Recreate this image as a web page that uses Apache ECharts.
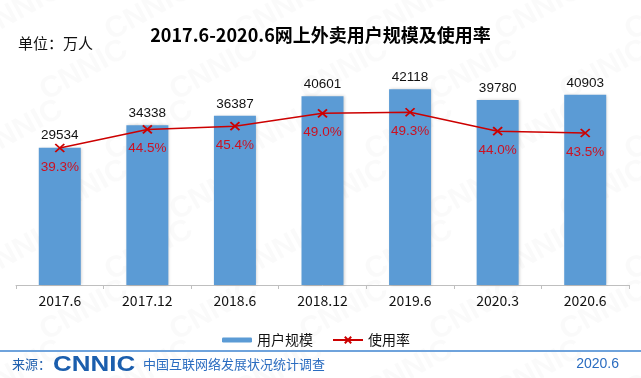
<!DOCTYPE html>
<html><head><meta charset="utf-8">
<script src="https://cdn.jsdelivr.net/npm/echarts@6/dist/echarts.min.js"></script>
<style>html,body{margin:0;padding:0;background:#fff}#c{width:641px;height:378px}</style>
</head><body><div id="c"></div>
<script>
const categories = ['2017.6','2017.12','2018.6','2018.12','2019.6','2020.3','2020.6'];
const users = [29534,34338,36387,40601,42118,39780,40903];
const rates = [39.3,44.5,45.4,49.0,49.3,44.0,43.5];
const seriesNames = ['用户规模','使用率'];
const titleText = '2017.6-2020.6网上外卖用户规模及使用率';
const unitText = '单位：万人';
const sourceLabel = '来源：';
const sourceOrg = 'CNNIC';
const sourceName = '中国互联网络发展状况统计调查';
const sourceDate = '2020.6';

const CJK = '"Noto Sans CJK SC", sans-serif';
const LAT = '"Liberation Sans", Arial, sans-serif';

const watermarks = [];
for (let r = 0; r < 7; r++) {
  for (let c = 0; c < 7; c++) {
    watermarks.push({
      type: 'text', x: -30 + c * 130 + (r % 2) * 65, y: 20 + r * 60, rotation: 0.5, z: -10,
      style: { text: 'CNNIC', fill: 'rgba(170,170,170,0.06)', font: 'bold 30px ' + LAT }
    });
  }
}

const chart = echarts.init(document.getElementById('c'));
chart.setOption({
  animation: false,
  backgroundColor: '#fff',
  title: {
    text: titleText, left: 'center', top: 21,
    textStyle: { fontSize: 18, fontWeight: 'bold', color: '#000', fontFamily: CJK }
  },
  legend: [
    { data: [seriesNames[0]], left: 217, top: 328, itemWidth: 30, itemHeight: 5, itemGap: 5,
      textStyle: { fontSize: 14, color: '#111', fontFamily: CJK } },
    { data: [seriesNames[1]], left: 327, top: 328, itemWidth: 30, itemHeight: 8, itemGap: 5,
      textStyle: { fontSize: 14, color: '#111', fontFamily: CJK } }
  ],
  grid: { left: 16, right: 12, top: 52.5, bottom: 93 },
  xAxis: {
    type: 'category', data: categories,
    axisLine: { lineStyle: { color: '#bfbfbf', width: 1 } },
    axisTick: { show: true, length: 4, lineStyle: { color: '#bfbfbf' } },
    axisLabel: { fontSize: 14, color: '#111', margin: 9, fontFamily: CJK }
  },
  yAxis: [
    { type: 'value', min: 0, max: 50000, show: false },
    { type: 'value', min: 1, max: 66, show: false }
  ],
  series: [
    {
      type: 'bar', name: seriesNames[0], data: users, barWidth: 42,
      itemStyle: { color: '#5b9bd5', shadowColor: 'rgba(0,0,0,0.2)', shadowBlur: 3, shadowOffsetX: 1 },
      label: { show: true, position: 'top', distance: 5, fontSize: 13.5, color: '#111', fontFamily: LAT }
    },
    {
      type: 'line', name: seriesNames[1], yAxisIndex: 1, data: rates,
      symbol: 'path://M0,0L10,10M10,0L0,10', symbolSize: [9, 8],
      lineStyle: { color: '#cc0000', width: 1.5 },
      itemStyle: { color: '#cc0000', borderColor: '#cc0000', borderWidth: 1.8 },
      label: { show: true, position: 'bottom', distance: 7, fontSize: 13.5, color: '#cc1122', fontFamily: LAT,
        formatter: p => p.value.toFixed(1) + '%' }
    }
  ],
  graphic: watermarks.concat([
    { type: 'text', x: 18, y: 43, style: { text: unitText, fill: '#111', font: '15px ' + CJK, verticalAlign: 'middle' } },
    { type: 'rect', shape: { x: 0, y: 350, width: 641, height: 2 }, style: { fill: '#6fa3dc' } },
    { type: 'text', x: 12, y: 364, style: { text: sourceLabel, fill: '#1f5fae', font: '13px ' + CJK, verticalAlign: 'middle' } },
    { type: 'text', x: 53, y: 365, scaleX: 1.18, style: { text: sourceOrg, fill: '#1b5ead', font: '900 22px ' + LAT, verticalAlign: 'middle' } },
    { type: 'text', x: 143, y: 364, style: { text: sourceName, fill: '#2a6cc0', font: '13px ' + CJK, verticalAlign: 'middle' } },
    { type: 'text', x: 619, y: 364, style: { text: sourceDate, fill: '#2a6cc0', font: '14px ' + LAT, align: 'right', verticalAlign: 'middle' } }
  ])
});
</script>
</body></html>
